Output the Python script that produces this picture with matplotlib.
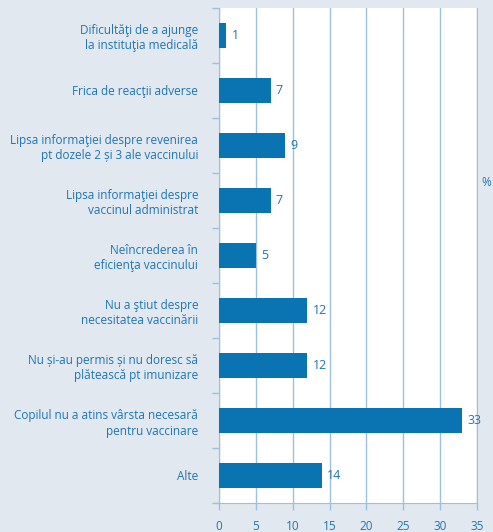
import matplotlib

matplotlib.use("Agg")
import matplotlib.pyplot as plt  # noqa: E402
import numpy as np  # noqa: E402

CATEGORIES = [
    "Dificultăţi de a ajunge\nla instituţia medicală",
    "Frica de reacţii adverse",
    "Lipsa informaţiei despre revenirea\npt dozele 2 și 3 ale vaccinului",
    "Lipsa informaţiei despre\nvaccinul administrat",
    "Neîncrederea în\neficienţa vaccinului",
    "Nu a ştiut despre\nnecesitatea vaccinării",
    "Nu și-au permis și nu doresc să\nplătească pt imunizare",
    "Copilul nu a atins vârsta necesară\npentru vaccinare",
    "Alte",
]
VALUES = [1, 7, 9, 7, 5, 12, 12, 33, 14]
X_TICKS = [0, 5, 10, 15, 20, 25, 30, 35]

BG = "#e1e8ef"
BAR = "#0a74b3"
TXT = "#1f75b3"
GRID = "#9dc0dc"

plt.rcParams["font.family"] = ["Open Sans", "DejaVu Sans"]

fig = plt.figure(figsize=(4.93, 5.32), dpi=100, facecolor=BG)
ax = fig.add_axes([219 / 493, 1 - 503 / 532, (477 - 219) / 493, (503 - 8) / 532])
ax.set_facecolor("white")

y = np.arange(len(CATEGORIES))
ax.barh(y, VALUES, height=0.44, color=BAR, zorder=3)
for yi, v in zip(y, VALUES):
    ax.text(v + 0.7, yi, str(v), va="center", ha="left", fontsize=9, color=TXT, zorder=4)

ax.set_xlim(0, 35)
ax.set_ylim(len(CATEGORIES) - 0.5, -0.5)
ax.set_xticks(X_TICKS)
ax.set_xticklabels([str(t) for t in X_TICKS], fontsize=8.5, color=TXT)
ax.set_yticks(y)
ax.set_yticklabels(CATEGORIES, fontsize=8.5, color=TXT, linespacing=1.25)
ax.set_yticks(np.arange(-0.5, len(CATEGORIES)), minor=True)
ax.tick_params(axis="y", which="major", length=0, pad=15)
ax.tick_params(axis="y", which="minor", length=5, color=GRID, width=1)
ax.tick_params(axis="x", length=5, color=GRID, width=1, pad=7)
ax.grid(axis="x", color=GRID, lw=1, zorder=1)
ax.spines["top"].set_visible(False)
for side in ["left", "bottom", "right"]:
    ax.spines[side].set_color(GRID)

fig.text(481 / 493, 1 - 182 / 532, "%", fontsize=8.5, color=TXT, ha="left", va="center")

fig.savefig("out.png", dpi=100, facecolor=BG)
